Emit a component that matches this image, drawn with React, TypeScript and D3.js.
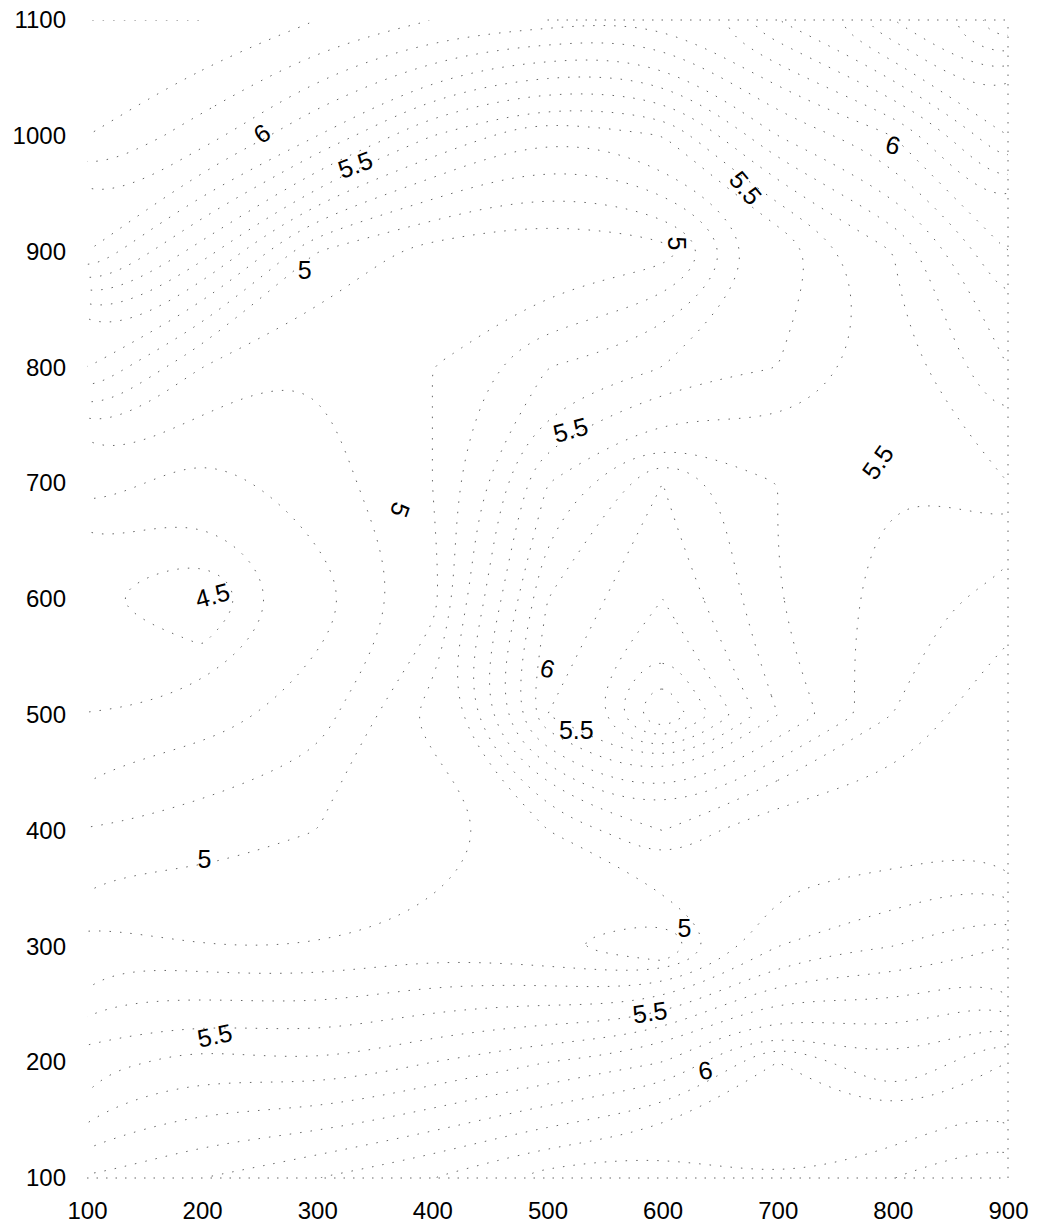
import React, { useRef, useEffect } from 'react';
import * as d3 from 'd3';

const xTicks = [100, 200, 300, 400, 500, 600, 700, 800, 900];
const yTicks = [100, 200, 300, 400, 500, 600, 700, 800, 900, 1000, 1100];

// sample grid, rows from y=1100 down to y=100
const gridX = [100, 200, 300, 400, 500, 600, 700, 800, 900];
const gridY = [1100, 1000, 900, 800, 700, 600, 500, 400, 300, 200, 100];
const zRows = [
  [6.3, 6.3, 6.2, 6.1, 6.05, 6.0, 6.3, 6.6, 6.9],
  [6.2, 6.05, 5.8, 5.5, 5.3, 5.4, 5.8, 6.0, 6.4],
  [5.9, 5.55, 5.1, 4.95, 4.9, 4.95, 5.3, 5.6, 6.0],
  [5.3, 5.0, 4.9, 5.0, 5.2, 5.3, 5.4, 5.55, 5.8],
  [4.85, 4.75, 4.85, 5.0, 5.5, 5.8, 5.6, 5.5, 5.6],
  [4.6, 4.5, 4.75, 4.95, 5.7, 5.9, 5.6, 5.45, 5.35],
  [4.7, 4.75, 4.85, 5.15, 5.8, 6.2, 5.7, 5.4, 5.2],
  [4.9, 4.95, 5.0, 5.0, 5.2, 5.4, 5.2, 5.2, 5.25],
  [5.15, 5.1, 5.1, 5.15, 5.1, 5.0, 5.4, 5.5, 5.6],
  [5.45, 5.55, 5.5, 5.6, 5.7, 5.8, 6.1, 5.9, 6.1],
  [5.8, 5.9, 6.0, 6.1, 6.25, 6.3, 6.2, 6.3, 6.4]
];

const levels = d3.range(44, 70).map(d => d / 10);

// contour labels: text, position (data units), angle
const labelText = ['6', '5.5', '5', '5', '5.5', '6', '5.5', '5.5', '5', '4.5', '6', '5.5', '5', '5', '5.5', '6', '5.5'];
const labelX = [252, 333, 289, 612, 672, 800, 520, 787, 372, 209, 500, 525, 202, 619, 589, 637, 211];
const labelY = [1002, 975, 884, 907, 955, 992, 746, 718, 677, 603, 540, 487, 375, 316, 243, 193, 223];
const labelAngle = [-35, -20, 0, 90, 50, 15, -15, -55, 110, -15, 15, 0, 0, 0, -8, -10, -12];

const App = () => {
  const ref = useRef<SVGSVGElement>(null);

  useEffect(() => {
    const width = 1038;
    const height = 1227;
    const margin = { top: 20, right: 30, bottom: 49, left: 87 };

    const svg = d3.select(ref.current)
      .attr('width', width)
      .attr('height', height);
    svg.selectAll('*').remove();

    const x = d3.scaleLinear().domain([100, 900]).range([margin.left, width - margin.right]);
    const y = d3.scaleLinear().domain([100, 1100]).range([height - margin.bottom, margin.top]);

    svg.append('defs').append('clipPath').attr('id', 'plot-clip')
      .append('rect')
      .attr('x', x(100)).attr('y', y(1100))
      .attr('width', x(900) - x(100)).attr('height', y(100) - y(1100));

    // frame edges (bottom, right, top), faint dots like the scan
    const frame = [
      [[100, 100], [900, 100]],
      [[900, 100], [900, 1100]],
      [[500, 1100], [900, 1100]]
    ];
    frame.forEach(seg => {
      svg.append('line')
        .attr('x1', x(seg[0][0])).attr('y1', y(seg[0][1]))
        .attr('x2', x(seg[1][0])).attr('y2', y(seg[1][1]))
        .attr('stroke', '#666')
        .attr('stroke-width', 1)
        .attr('stroke-dasharray', '1.5 8');
    });

    const n = gridX.length;
    const m = gridY.length;
    const values = zRows.flat();
    const contours = d3.contours().size([n, m]).thresholds(levels)(values);

    // grid coords -> pixels (samples sit at i + 0.5)
    const gx = d3.scaleLinear().domain([0.5, n - 0.5]).range([x(gridX[0]), x(gridX[n - 1])]);
    const gy = d3.scaleLinear().domain([0.5, m - 0.5]).range([y(gridY[0]), y(gridY[m - 1])]);
    const line = d3.line<[number, number]>()
      .x(p => gx(p[0]))
      .y(p => gy(p[1]))
      .curve(d3.curveBasisClosed);

    const cg = svg.append('g').attr('clip-path', 'url(#plot-clip)');
    contours.forEach(c => {
      c.coordinates.forEach(poly => {
        poly.forEach(ring => {
          cg.append('path')
            .attr('d', line(ring as [number, number][]))
            .attr('fill', 'none')
            .attr('stroke', '#666')
            .attr('stroke-width', 1)
            .attr('stroke-dasharray', '1.5 9');
        });
      });
    });

    const lg = svg.append('g')
      .style('font-family', 'Arial, "Liberation Sans", sans-serif')
      .style('font-size', '25px');
    labelText.forEach((t, i) => {
      lg.append('text')
        .attr('transform', `translate(${x(labelX[i])},${y(labelY[i])}) rotate(${labelAngle[i]})`)
        .attr('text-anchor', 'middle')
        .attr('dy', '0.35em')
        .attr('fill', '#000')
        .text(t);
    });

    const xAxis = svg.append('g')
      .attr('transform', `translate(0,${y(100)})`)
      .call(d3.axisBottom(x).tickValues(xTicks).tickSize(0).tickPadding(24).tickFormat(d3.format('d')));
    const yAxis = svg.append('g')
      .attr('transform', `translate(${x(100)},0)`)
      .call(d3.axisLeft(y).tickValues(yTicks).tickSize(0).tickPadding(21).tickFormat(d3.format('d')));

    [xAxis, yAxis].forEach(a => {
      a.select('.domain').remove();
      a.selectAll('text')
        .style('font-family', 'Arial, "Liberation Sans", sans-serif')
        .style('font-size', '24px')
        .attr('fill', '#000');
    });
  }, []);

  return <svg ref={ref} style={{ position: 'absolute', left: 0, top: 0 }}></svg>;
};

export default App;
